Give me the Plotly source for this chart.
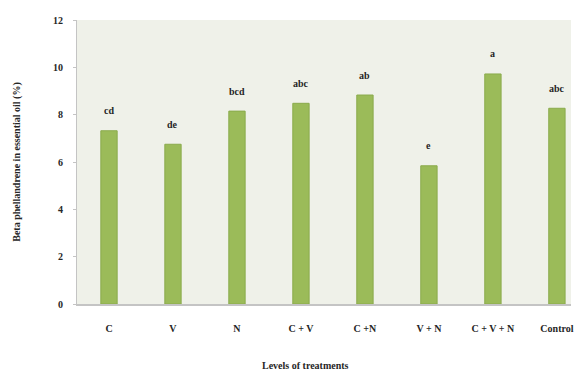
import plotly.graph_objects as go

# Treatment groups and measured beta-phellandrene content (%)
treatments = ["C", "V", "N", "C + V", "C +N", "V + N", "C + V + N", "Control"]
beta_phellandrene = [7.32, 6.75, 8.15, 8.48, 8.83, 5.84, 9.72, 8.27]
# Mean separation letters
letters = ["cd", "de", "bcd", "abc", "ab", "e", "a", "abc"]
y_ticks = [0, 2, 4, 6, 8, 10, 12]

serif = "Liberation Serif"
ink = "#262626"

fig = go.Figure()
fig.add_trace(go.Bar(
    x=treatments,
    y=beta_phellandrene,
    marker=dict(color="#9bbb59", line=dict(color="#8aab4c", width=1)),
    width=0.255,
    hoverinfo="x+y",
))

for t, v, lab in zip(treatments, beta_phellandrene, letters):
    fig.add_annotation(
        x=t, y=v, text=f"<b>{lab}</b>", showarrow=False,
        yshift=20, font=dict(family=serif, size=10, color=ink),
    )

# x-axis title placed as a paper annotation
fig.add_annotation(
    x=0.463, y=-0.215, xref="paper", yref="paper",
    xanchor="center", yanchor="middle", showarrow=False,
    text="<b>Levels of treatments</b>",
    font=dict(family=serif, size=10, color=ink),
)

fig.update_layout(
    width=576, height=370,
    margin=dict(l=77, r=2, t=20, b=66),
    paper_bgcolor="white",
    plot_bgcolor="#eff1e9",
    showlegend=False,
    font=dict(family=serif, size=10, color=ink),
)
fig.update_xaxes(
    type="category",
    range=[-0.5, 7.22],
    showline=True, linecolor="#c4c4c4", linewidth=1.5,
    ticks="", ticklabelstandoff=14,
    tickfont=dict(family=serif, size=10, color=ink),
    tickvals=treatments,
    ticktext=[f"<b>{t}</b>" for t in treatments],
)
fig.update_yaxes(
    range=[0, 12],
    tickvals=y_ticks,
    ticktext=[f"<b>{v}</b>" for v in y_ticks],
    showgrid=False, zeroline=False,
    showline=True, linecolor="#c4c4c4", linewidth=1,
    ticks="outside", ticklen=3, tickcolor="#c4c4c4",
    ticklabelstandoff=8,
    tickfont=dict(family=serif, size=10, color=ink),
    title=dict(text="<b>Beta phellandrene in essential oil (%)</b>", standoff=30,
               font=dict(family=serif, size=10, color=ink)),
)

fig.write_html("out.html")
